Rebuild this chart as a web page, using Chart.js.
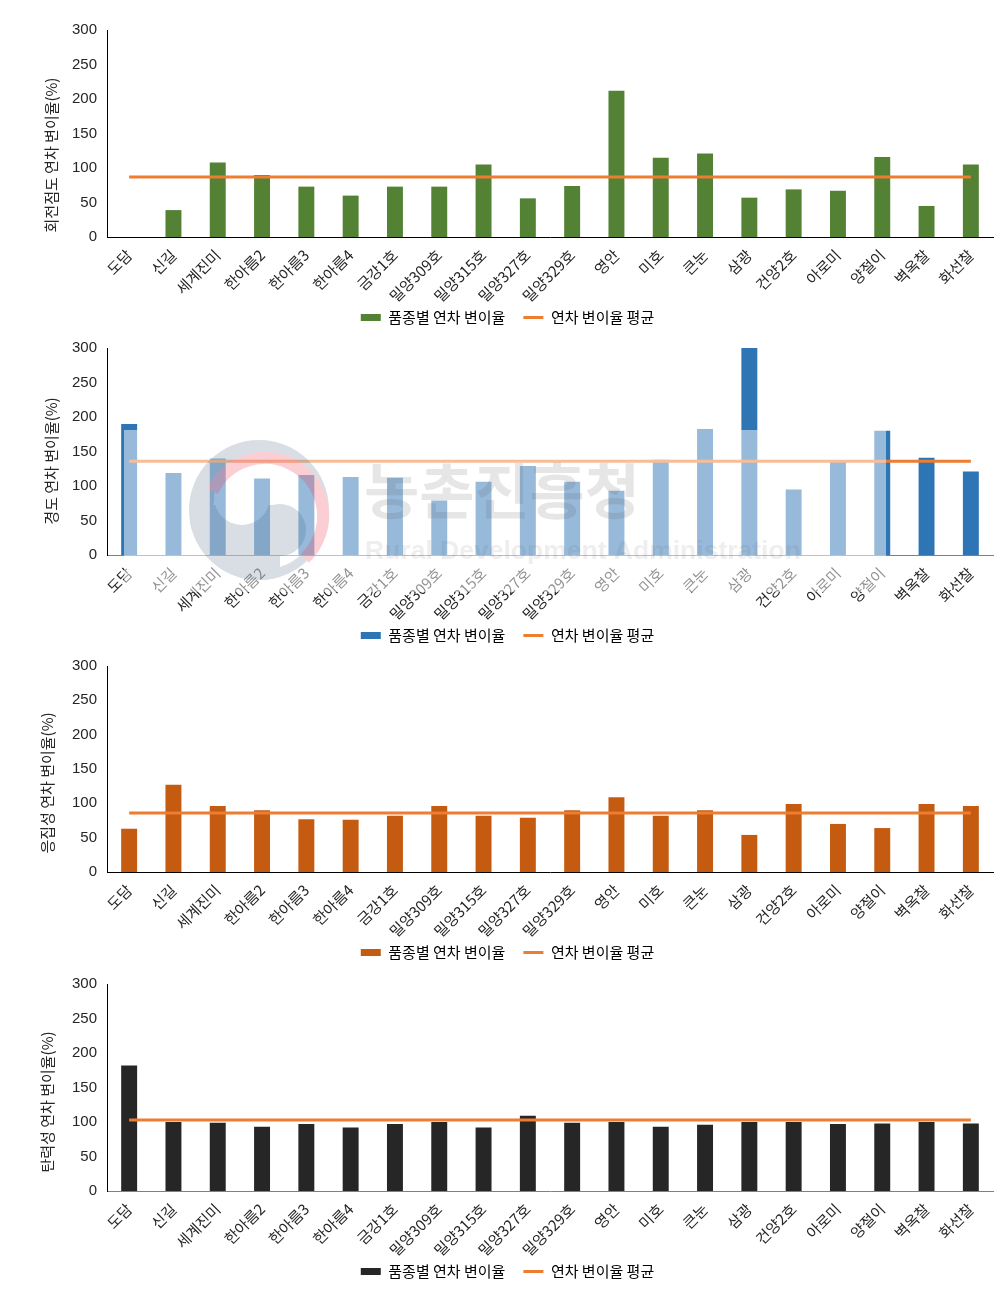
<!DOCTYPE html>
<html>
<head>
<meta charset="utf-8">
<style>
  html, body { margin: 0; padding: 0; background: #fff; overflow: hidden; width: 1008px; height: 1295px; }
  .wrap { position: absolute; left: 0; width: 1008px; }
</style>
<script src="https://cdn.jsdelivr.net/npm/chart.js@4"></script>
</head>
<body>
<div class="wrap" id="w0"><canvas id="c0"></canvas></div>
<div class="wrap" id="w1"><canvas id="c1"></canvas></div>
<div class="wrap" id="w2"><canvas id="c2"></canvas></div>
<div class="wrap" id="w3"><canvas id="c3"></canvas></div>
<script>
const varieties = ['도담', '신길', '세계진미', '한아름2', '한아름3', '한아름4', '금강1호', '밀양309호', '밀양315호', '밀양327호',
  '밀양329호', '영안', '미호', '큰눈', '삼광', '건양2호', '아로미', '양절이', '벽옥찰', '화선찰'];

const viscosityValues = [0, 39, 108, 90, 73, 60, 73, 73, 105, 56, 74, 212, 115, 121, 57, 69, 67, 116, 45, 105];
const hardnessValues = [190, 119, 140, 111, 116, 113, 112, 79, 106, 129, 106, 93, 138, 182, 300, 95, 137, 180, 141, 121];
const cohesionValues = [63, 127, 96, 90, 77, 76, 82, 96, 82, 79, 90, 109, 82, 90, 54, 99, 70, 64, 99, 96];
const elasticityValues = [182, 100, 99, 93, 97, 92, 97, 100, 92, 109, 99, 100, 93, 96, 100, 100, 97, 98, 100, 98];

const viscosityMean = 87;
const hardnessMean = 136;
const cohesionMean = 86;
const elasticityMean = 103;

const barLegend = '품종별 연차 변이율';
const lineLegend = '연차 변이율 평균';
const KO_FONT = '"Noto Sans CJK KR", "Noto Sans", sans-serif';
const TEXT = '#262626';
const LINE = '#ED7D31';

// plotTop / plotH are page pixels, the canvas starts 20px above the plot
const panels = [
  { title: '회전점도 연차 변이율(%)', values: viscosityValues, mean: viscosityMean, color: '#548235', axis: '#000000', plotTop: 30, plotH: 207, titleX: 51, titleY: 155 },
  { title: '경도 연차 변이율(%)', values: hardnessValues, mean: hardnessMean, color: '#2E75B6', axis: '#808080', plotTop: 348, plotH: 207, titleX: 51, titleY: 461, watermark: true },
  { title: '응집성 연차 변이율(%)', values: cohesionValues, mean: cohesionMean, color: '#C55A11', axis: '#000000', plotTop: 666, plotH: 206, titleX: 47, titleY: 783 },
  { title: '탄력성 연차 변이율(%)', values: elasticityValues, mean: elasticityMean, color: '#262626', axis: '#808080', plotTop: 984, plotH: 207, titleX: 47, titleY: 1102 }
];

// y title sits off-centre in the original, so it is drawn by hand
const yTitlePlugin = {
  id: 'yTitle',
  afterDraw(chart, args, opts) {
    const ctx = chart.ctx;
    ctx.save();
    ctx.translate(opts.x, opts.y);
    ctx.rotate(-Math.PI / 2);
    ctx.font = '15px ' + KO_FONT;
    ctx.fillStyle = TEXT;
    ctx.textAlign = 'center';
    ctx.textBaseline = 'middle';
    ctx.fillText(opts.text, 0, 0);
    ctx.restore();
  }
};

// the agency stamp lying over the second panel
function drawStamp(ctx) {
  const off = document.createElement('canvas');
  off.width = 1008;
  off.height = 340;
  const g = off.getContext('2d');
  const dy = -328;
  const disc = (x, y, r) => { g.beginPath(); g.arc(x, y + dy, r, 0, Math.PI * 2); g.fill(); };
  const ring = () => { g.beginPath(); g.arc(265, 516 + dy, 58, Math.PI * 1.14, Math.PI * 0.26); g.lineWidth = 12; g.stroke(); };
  g.fillStyle = '#000';
  disc(259, 510, 70);
  g.globalCompositeOperation = 'destination-out';
  disc(265, 516, 53);
  g.globalCompositeOperation = 'source-over';
  g.save();
  g.beginPath();
  g.arc(259, 510 + dy, 70, 0, Math.PI * 2);
  g.clip();
  g.fillRect(190, 505 + dy, 90, 90);
  g.restore();
  disc(280, 530, 26);
  g.globalCompositeOperation = 'destination-out';
  disc(242, 497, 28);
  g.globalCompositeOperation = 'source-in';
  g.fillStyle = 'rgba(60,90,120,0.2)';
  g.fillRect(0, 0, 1008, 340);
  g.globalCompositeOperation = 'destination-out';
  g.strokeStyle = '#000';
  ring();
  g.globalCompositeOperation = 'source-over';
  g.strokeStyle = 'rgba(235,60,80,0.25)';
  ring();

  ctx.save();
  ctx.fillStyle = 'rgba(255,255,255,0.5)';
  ctx.fillRect(124, 430 + dy, 762, 162);
  ctx.drawImage(off, 0, 0);
  ctx.fillStyle = 'rgba(90,90,90,0.15)';
  ctx.textBaseline = 'middle';
  ctx.textAlign = 'left';
  ctx.font = 'bold 60px ' + KO_FONT;
  ctx.fillText('농촌진흥청', 364, 491 + dy);
  ctx.font = 'bold 26.5px "Liberation Sans", sans-serif';
  ctx.fillStyle = 'rgba(90,90,90,0.1)';
  ctx.fillText('Rural Development Administration', 365, 552 + dy);
  ctx.restore();
}

const stampPlugin = {
  id: 'stamp',
  afterDraw(chart) {
    if (chart.options.plugins.stamp.show) drawStamp(chart.ctx);
  }
};

panels.forEach(function (p, i) {
  const wrap = document.getElementById('w' + i);
  const height = 20 + p.plotH + 55 + 43;
  wrap.style.top = (p.plotTop - 20) + 'px';
  wrap.style.height = height + 'px';
  new Chart(document.getElementById('c' + i).getContext('2d'), {
    type: 'bar',
    data: {
      labels: varieties,
      datasets: [
        { type: 'line', label: lineLegend, data: varieties.map(function () { return p.mean; }), borderColor: LINE, backgroundColor: LINE, borderWidth: 3, pointRadius: 0, tension: 0, order: 0 },
        { type: 'bar', label: barLegend, data: p.values, backgroundColor: p.color, barPercentage: 0.36, categoryPercentage: 1, order: 1 }
      ]
    },
    options: {
      responsive: true,
      maintainAspectRatio: false,
      animation: false,
      layout: { padding: { top: 20, left: 22, right: 15, bottom: 0 } },
      scales: {
        x: {
          grid: { display: false, drawTicks: false },
          border: { color: p.axis, width: 1 },
          afterFit: function (s) {
            s.height = 55;
            // long labels run past the axis box, do not clip them there
            s._computeLabelArea = function () { return null; };
          },
          ticks: { autoSkip: false, minRotation: 45, maxRotation: 45, padding: 9, color: TEXT, font: { size: 15, family: KO_FONT } }
        },
        y: {
          min: 0,
          max: 300,
          grid: { display: false, drawTicks: false },
          border: { color: '#000000', width: 1 },
          afterFit: function (s) { s.width = 85; },
          ticks: { stepSize: 50, padding: 10, color: TEXT, font: { size: 15, family: '"Liberation Sans", sans-serif' } }
        }
      },
      plugins: {
        tooltip: { enabled: false },
        stamp: { show: !!p.watermark },
        yTitle: { text: p.title, x: p.titleX, y: p.titleY - (p.plotTop - 20) },
        legend: {
          position: 'bottom',
          labels: {
            usePointStyle: true,
            pointStyleWidth: 20,
            boxHeight: 7,
            padding: 18,
            color: TEXT,
            font: { size: 15, family: KO_FONT },
            generateLabels: function () {
              return [
                { text: barLegend, fillStyle: p.color, strokeStyle: p.color, lineWidth: 0, pointStyle: 'rect', datasetIndex: 1 },
                { text: lineLegend, fillStyle: LINE, strokeStyle: LINE, lineWidth: 3, pointStyle: 'line', datasetIndex: 0 }
              ];
            }
          }
        }
      }
    },
    plugins: [yTitlePlugin, stampPlugin]
  });
});
</script>
</body>
</html>
